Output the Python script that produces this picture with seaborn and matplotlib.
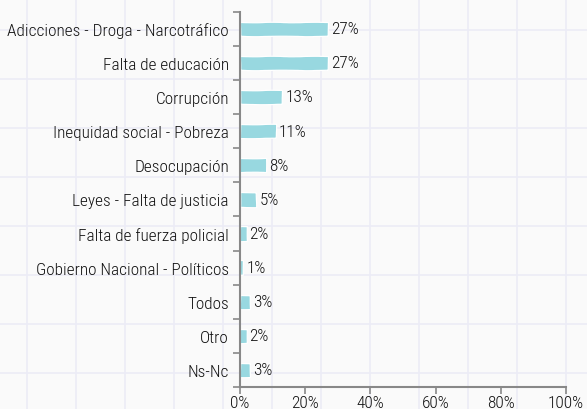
import matplotlib
matplotlib.use("Agg")
import matplotlib.pyplot as plt
import matplotlib.ticker as mticker
import numpy as np
import pandas as pd
import seaborn as sns

categories = [
    "Adicciones - Droga - Narcotráfico",
    "Falta de educación",
    "Corrupción",
    "Inequidad social - Pobreza",
    "Desocupación",
    "Leyes - Falta de justicia",
    "Falta de fuerza policial",
    "Gobierno Nacional - Políticos",
    "Todos",
    "Otro",
    "Ns-Nc",
]
values = [27, 27, 13, 11, 8, 5, 2, 1, 3, 2, 3]
x_ticks = [0, 20, 40, 60, 80, 100]

df = pd.DataFrame({"cat": categories, "val": values})

sns.set_theme(style="white")
plt.rcParams["font.family"] = ["Roboto Condensed", "DejaVu Sans"]
plt.rcParams["font.weight"] = 300

FS = 12.4
TXT = "#111111"

W, H = 587, 410
fig = plt.figure(figsize=(W / 100, H / 100), dpi=100)
fig.patch.set_facecolor("#fafafa")

# background graph-paper grid
bg = fig.add_axes([0, 0, 1, 1], zorder=-5)
bg.set_xlim(0, W)
bg.set_ylim(H, 0)
bg.set_facecolor("#fafafa")
bg.set_xticks(np.arange(26.7, W, 49))
bg.set_yticks(np.arange(30.5, H, 49))
bg.grid(True, color="#ececf6", linewidth=1.2)
bg.tick_params(length=0, labelbottom=False, labelleft=False)
for s in bg.spines.values():
    s.set_visible(False)

left = 240 / W
right = 566 / W
bottom = (H - 388) / H
top = (H - 12.7) / H
ax = fig.add_axes([left, bottom, right - left, top - bottom])
ax.set_facecolor("none")

sns.barplot(data=df, y="cat", x="val", orient="h", color="#98d8e0",
            saturation=1, width=0.42, ax=ax, edgecolor="white", linewidth=0.9)
for p in ax.patches:
    p.set_sketch_params(scale=0.25, length=60, randomness=4)

ax.set_xlim(0, 100)
ax.set_ylim(len(categories) - 0.5, -0.5)
ax.set_xticks(x_ticks)
ax.xaxis.set_major_formatter(mticker.FuncFormatter(lambda v, p: f"{int(v)}%"))
ax.set_xlabel("")
ax.set_ylabel("")

# y ticks: labels at centers, tick marks at boundaries
ax.set_yticks(range(len(categories)))
ax.set_yticklabels(categories)
ax.set_yticks(np.arange(-0.5, len(categories), 1.0), minor=True)
ax.tick_params(axis="y", which="major", length=0, pad=8, labelsize=FS, labelcolor=TXT)
ax.tick_params(axis="y", which="minor", length=5, width=1.2, color="#888888", left=True)
ax.tick_params(axis="x", which="major", length=5, width=1.2, color="#888888", pad=1,
               labelsize=FS, labelcolor=TXT, bottom=True)

for s in ["top", "right"]:
    ax.spines[s].set_visible(False)
for s in ["left", "bottom"]:
    ax.spines[s].set_color("#888888")
    ax.spines[s].set_linewidth(1.5)

for i, v in enumerate(values):
    ax.text(v + 0.9, i, f"{v}%", va="center", ha="left", fontsize=FS, color=TXT)

fig.savefig("out.png", dpi=100, facecolor=fig.get_facecolor())
